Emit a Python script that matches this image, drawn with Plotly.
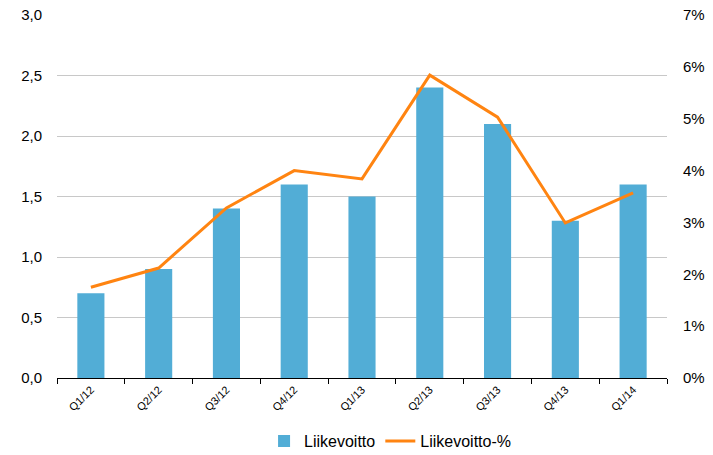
import plotly.graph_objects as go

quarters = ["Q1/12", "Q2/12", "Q3/12", "Q4/12", "Q1/13", "Q2/13", "Q3/13", "Q4/13", "Q1/14"]
liikevoitto = [0.7, 0.9, 1.4, 1.6, 1.5, 2.4, 2.1, 1.3, 1.6]
liikevoitto_pct = [1.75, 2.12, 3.28, 4.0, 3.84, 5.84, 5.03, 2.99, 3.57]

left_ticks = [0, 0.5, 1.0, 1.5, 2.0, 2.5, 3.0]
left_labels = ["0,0", "0,5", "1,0", "1,5", "2,0", "2,5", "3,0"]
right_ticks = [0, 1, 2, 3, 4, 5, 6, 7]
right_labels = [f"{t}%" for t in right_ticks]

FONT = "Liberation Sans, Arial, sans-serif"

fig = go.Figure()
fig.add_trace(
    go.Bar(
        x=quarters,
        y=liikevoitto,
        name="Liikevoitto",
        marker=dict(color="#52ADD6", line=dict(width=0)),
    )
)
fig.add_trace(
    go.Scatter(
        x=quarters,
        y=liikevoitto_pct,
        name="Liikevoitto-%",
        mode="lines",
        line=dict(color="#FF8411", width=3),
        yaxis="y2",
    )
)

fig.update_layout(
    width=713,
    height=455,
    paper_bgcolor="white",
    plot_bgcolor="white",
    font=dict(family=FONT, color="#000000", size=14),
    margin=dict(l=57, r=46, t=15, b=77, autoexpand=False),
    bargap=0.6,
    showlegend=True,
    legend=dict(
        orientation="h",
        x=0.546,
        xanchor="center",
        y=-0.174,
        yanchor="middle",
        font=dict(size=16),
        itemwidth=30,
        traceorder="normal",
    ),
    xaxis=dict(
        automargin=False,
        showline=True,
        linecolor="#000000",
        linewidth=1,
        ticks="outside",
        tickson="boundaries",
        ticklen=5,
        tickcolor="#000000",
        tickangle=-45,
        tickfont=dict(size=11),
        showgrid=False,
    ),
    yaxis=dict(
        automargin=False,
        range=[0, 3.0],
        tickvals=left_ticks,
        ticktext=left_labels,
        showgrid=True,
        gridcolor="#C8C8C8",
        zeroline=False,
        showline=False,
        ticklabelstandoff=14,
        tickfont=dict(size=15),
    ),
    yaxis2=dict(
        automargin=False,
        range=[0, 7],
        tickvals=right_ticks,
        ticktext=right_labels,
        overlaying="y",
        side="right",
        showgrid=False,
        zeroline=False,
        showline=False,
        ticklabelstandoff=15,
        tickfont=dict(size=15),
    ),
)

# the page's default body margin would shift the fixed-size figure
fig.write_html(
    "out.html",
    config={"displayModeBar": False},
    post_script="document.body.style.margin='0';",
)
